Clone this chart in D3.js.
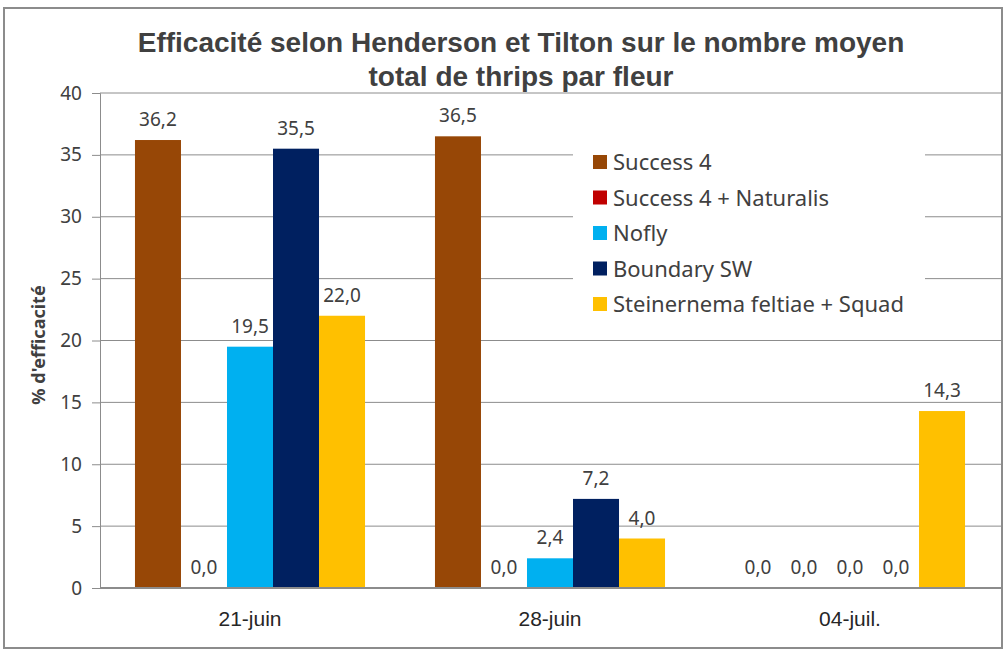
<!DOCTYPE html>
<html>
<head>
<meta charset="utf-8">
<script src="https://cdn.jsdelivr.net/npm/d3@7"></script>
<style>
  body { margin: 0; background: #fff; }
  .title { font-family: "Liberation Sans Narrow", "Liberation Sans", sans-serif; font-weight: bold; fill: #404040; }
  .lbl { font-family: "Noto Sans", "Open Sans", sans-serif; fill: #404040; }
  .cat { font-family: "Liberation Sans Narrow", "Liberation Sans", sans-serif; fill: #262626; }
</style>
</head>
<body>
<div class="chart"></div>
<script>
var categories = ["21-juin", "28-juin", "04-juil."];
var seriesNames = ["Success 4", "Success 4 + Naturalis", "Nofly", "Boundary SW", "Steinernema feltiae + Squad"];
var seriesColors = ["#974706", "#c00000", "#00b0f0", "#002060", "#ffc000"];
var success4 = [36.2, 36.5, 0.0];
var naturalis = [0.0, 0.0, 0.0];
var nofly = [19.5, 2.4, 0.0];
var boundary = [35.5, 7.2, 0.0];
var steinernema = [22.0, 4.0, 14.3];
var yTicks = [0, 5, 10, 15, 20, 25, 30, 35, 40];

var svgWidth = 1008;
var svgHeight = 650;
var margin = { top: 93, right: 6, bottom: 62, left: 100 };
var width = svgWidth - margin.left - margin.right;
var height = svgHeight - margin.top - margin.bottom;

var allSeries = [success4, naturalis, nofly, boundary, steinernema];
var data = categories.map((c, i) => ({
  cat: c,
  values: seriesNames.map((s, j) => ({ name: s, value: allSeries[j][i], color: seriesColors[j] }))
}));

var svg = d3.select(".chart")
  .append("svg")
  .attr("width", svgWidth)
  .attr("height", svgHeight);

// outer frame
svg.append("rect")
  .attr("x", 4).attr("y", 8)
  .attr("width", 998).attr("height", 640)
  .attr("fill", "none")
  .attr("stroke", "#8c8c8c")
  .attr("stroke-width", 2);

// title
svg.append("text")
  .attr("class", "title")
  .attr("x", 521).attr("y", 52)
  .attr("text-anchor", "middle")
  .attr("font-size", "28px")
  .text("Efficacité selon Henderson et Tilton sur le nombre moyen");
svg.append("text")
  .attr("class", "title")
  .attr("x", 521).attr("y", 86)
  .attr("text-anchor", "middle")
  .attr("font-size", "28px")
  .text("total de thrips par fleur");

var chartGroup = svg.append("g")
  .attr("transform", `translate(${margin.left}, ${margin.top})`);

var x0 = d3.scaleBand()
  .domain(categories)
  .range([0, 900]);

var x1 = d3.scaleBand()
  .domain(seriesNames)
  .range([0, x0.bandwidth()])
  .paddingOuter(0.76);

var y = d3.scaleLinear()
  .domain([0, 40])
  .range([height, 0]);

// gridlines
chartGroup.append("g")
  .selectAll("line")
  .data(yTicks.slice(1))
  .enter()
  .append("line")
  .attr("x1", 0).attr("x2", width)
  .attr("y1", d => y(d)).attr("y2", d => y(d))
  .attr("stroke", "#8c8c8c")
  .attr("stroke-width", 1);

// left axis
var leftAxis = d3.axisLeft(y).tickValues(yTicks).tickSize(8).tickPadding(10);
var ga = chartGroup.append("g").call(leftAxis);
ga.select(".domain").attr("stroke", "#8c8c8c");
ga.selectAll(".tick line").attr("stroke", "#8c8c8c");
ga.selectAll(".tick text")
  .attr("class", "lbl")
  .attr("font-size", "19px")
  .attr("fill", "#404040");

// legend box (covers gridlines)
var legend = chartGroup.append("g").attr("transform", "translate(473, 47)");
legend.append("rect")
  .attr("x", 0).attr("y", 0)
  .attr("width", 352).attr("height", 186)
  .attr("fill", "#fff");
legend.selectAll(".item")
  .data(seriesNames)
  .enter()
  .append("g")
  .attr("transform", (d, i) => `translate(20, ${22 + i * 35.5})`)
  .each(function(d, i) {
    var g = d3.select(this);
    g.append("rect")
      .attr("x", 0).attr("y", -7)
      .attr("width", 14).attr("height", 14)
      .attr("fill", seriesColors[i]);
    g.append("text")
      .attr("class", "lbl")
      .attr("x", 20).attr("y", 8)
      .attr("font-size", "22px")
      .text(d);
  });

// bars
var groups = chartGroup.selectAll(".grp")
  .data(data)
  .enter()
  .append("g")
  .attr("transform", d => `translate(${x0(d.cat)}, 0)`);

groups.selectAll("rect")
  .data(d => d.values)
  .enter()
  .append("rect")
  .attr("x", d => x1(d.name))
  .attr("y", d => y(d.value))
  .attr("width", x1.bandwidth())
  .attr("height", d => height - y(d.value))
  .attr("fill", d => d.color);

groups.selectAll(".val")
  .data(d => d.values)
  .enter()
  .append("text")
  .attr("class", "lbl")
  .attr("x", d => x1(d.name) + x1.bandwidth() / 2)
  .attr("y", d => y(d.value) - 14)
  .attr("text-anchor", "middle")
  .attr("font-size", "19px")
  .text(d => d.value.toFixed(1).replace(".", ","));

// bottom axis line
chartGroup.append("line")
  .attr("x1", 0).attr("x2", width)
  .attr("y1", height).attr("y2", height)
  .attr("stroke", "#8c8c8c")
  .attr("stroke-width", 2);

// category labels
chartGroup.selectAll(".cat")
  .data(categories)
  .enter()
  .append("text")
  .attr("class", "cat")
  .attr("x", d => x0(d) + x0.bandwidth() / 2)
  .attr("y", height + 38)
  .attr("text-anchor", "middle")
  .attr("font-size", "21px")
  .text(d => d);

// y axis title
svg.append("text")
  .attr("transform", "rotate(-90)")
  .attr("x", -345)
  .attr("y", 45)
  .attr("text-anchor", "middle")
  .attr("font-family", "'Noto Sans', 'Open Sans', sans-serif")
  .attr("font-weight", "bold")
  .attr("font-size", "18px")
  .attr("fill", "#404040")
  .text("% d'efficacité");
</script>
</body>
</html>
